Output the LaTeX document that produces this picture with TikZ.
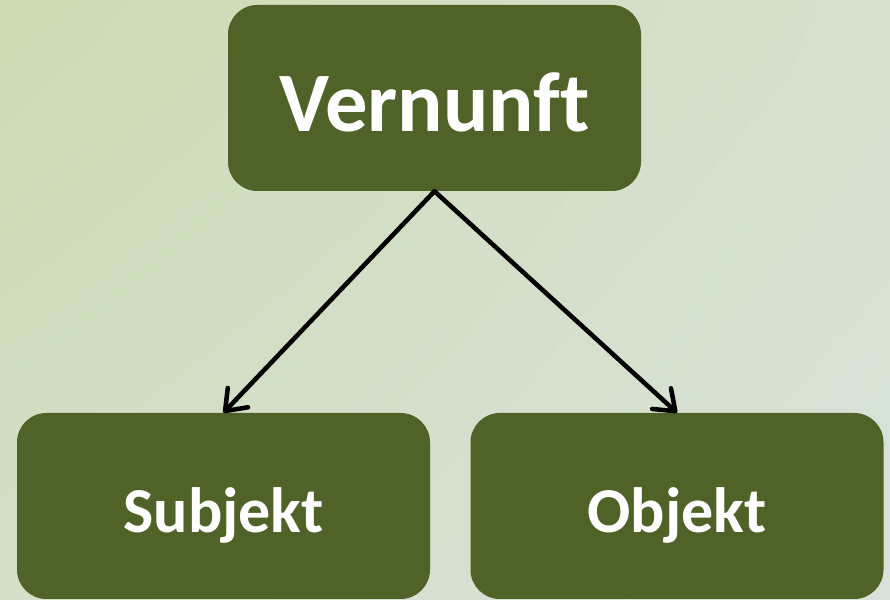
\documentclass[tikz,border=0pt]{standalone}
\usepackage{fontspec}
\usetikzlibrary{arrows.meta,shadings}
\newfontfamily\boxfont[Ligatures=NoCommon]{Carlito}
\definecolor{boxgreen}{HTML}{4F6228}
\definecolor{bgul}{RGB}{204,219,179}
\definecolor{bgur}{RGB}{214,225,206}
\definecolor{bgll}{RGB}{211,223,200}
\definecolor{bglr}{RGB}{216,226,218}

\begin{document}
\begin{tikzpicture}[x=0.75pt, y=0.75pt,
  main node/.style={rectangle, rounded corners=22pt, fill=boxgreen, text=white, inner sep=0pt, minimum width=309.75pt, minimum height=139.5pt, text depth=0pt},
  arrow line/.style={line width=3.4pt, line cap=round, -{Straight Barb[length=14pt, width=21pt, round]}}]

  \shade[upper left=bgul, upper right=bgur, lower left=bgll, lower right=bglr] (0,0) rectangle (890,600);
  \useasboundingbox (0,0) rectangle (890,600);

  \node[main node, text height=51pt, font=\boxfont\bfseries\fontsize{63.5}{76}\selectfont] (vern) at (434.5,502) {Vernunft};
  \node[main node, text height=40.5pt, font=\boxfont\bfseries\fontsize{48}{58}\selectfont] (subj) at (223.5,94) {Subjekt};
  \node[main node, text height=40.5pt, font=\boxfont\bfseries\fontsize{48}{58}\selectfont] (obj) at (677,94) {Objekt};

 \path[] (vern.south) [arrow line] edge node [] {} (subj.north);
 \path[] (vern.south) [arrow line] edge node [] {} (obj.north);
\end{tikzpicture}
\end{document}
